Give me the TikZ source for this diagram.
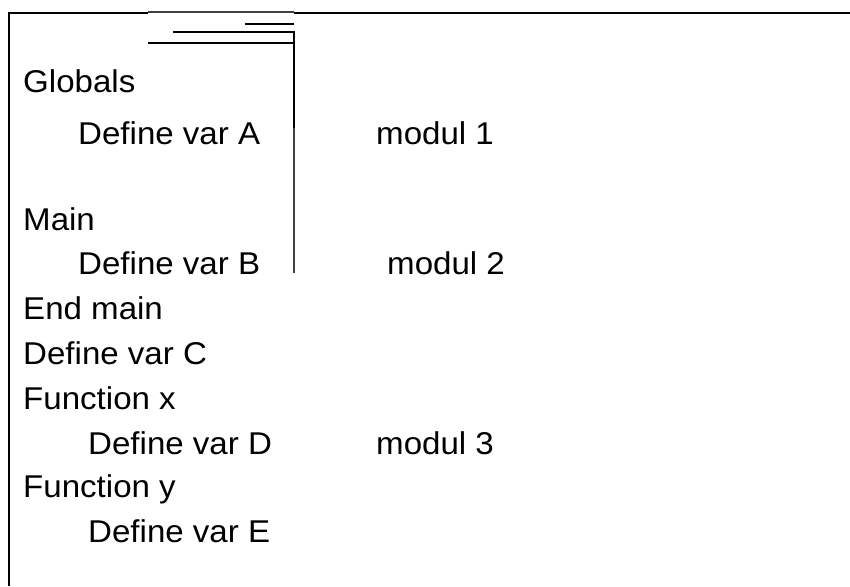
\documentclass[tikz,border=0pt]{standalone}
\usepackage{fontspec}
\newfontfamily\wfont[FakeStretch=1.05]{Liberation Sans}
\begin{document}
\begin{tikzpicture}[x=1pt,y=-1pt,
  txt/.style={anchor=base west,inner sep=0pt,font=\wfont\fontsize{31.5}{36}\selectfont},
  frame/.style={line width=2pt,black},
  thin/.style={line width=1.6pt,black},
  grayline/.style={line width=1.4pt,black!75}]
\useasboundingbox (0,0) rectangle (850,586);
% frame
\draw[frame] (9,586) -- (9,13) -- (148,13);
\draw[grayline] (148,12) -- (294,12);
\draw[frame] (294,13) -- (851,13);
% bracket lines
\draw[thin] (245,24) -- (294,24);
\draw[frame] (173,32) -- (294,32) -- (294,128);
\draw[grayline] (294,128) -- (294,273);
\draw[thin] (148,43) -- (294,43);
% text
\node[txt] (globals) at (23,92) {Globals};
\node[txt] (va) at (78,144) {Define var A};
\node[txt] (m1) at (376,144) {modul 1};
\node[txt] (main) at (23,230) {Main};
\node[txt] (vb) at (78,274) {Define var B};
\node[txt] (m2) at (387,274) {modul 2};
\node[txt] (endmain) at (23,319) {End main};
\node[txt] (vc) at (23,364) {Define var C};
\node[txt] (fx) at (23,409) {Function x};
\node[txt] (vd) at (88,454) {Define var D};
\node[txt] (m3) at (376,454) {modul 3};
\node[txt] (fy) at (23,497) {Function y};
\node[txt] (ve) at (88,542) {Define var E};
\end{tikzpicture}
\end{document}
